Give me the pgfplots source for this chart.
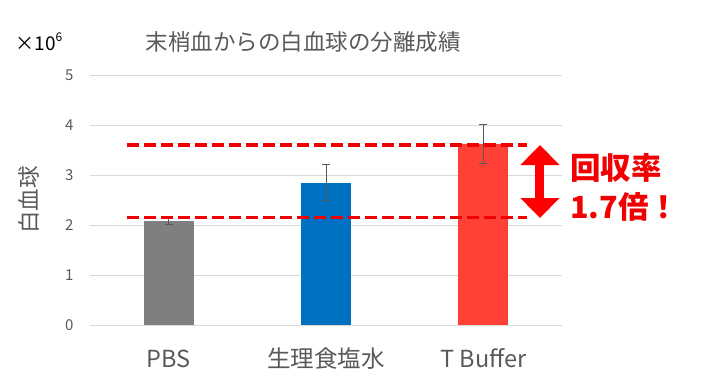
\documentclass[border=0pt]{standalone}
\usepackage{fontspec}
\setmainfont{Noto Sans CJK JP}
\usepackage{pgfplots}
\pgfplotsset{compat=1.18}
\usetikzlibrary{arrows.meta}
\definecolor{txtgray}{HTML}{595959}
\definecolor{gridgray}{HTML}{D9D9D9}
\definecolor{bargray}{HTML}{7F7F7F}
\definecolor{barblue}{HTML}{0070C0}
\definecolor{barred}{HTML}{FF4034}
\definecolor{anno}{HTML}{F00000}
\begin{document}
\begin{tikzpicture}
\path[use as bounding box] (0,0) rectangle (725bp,389bp);
\begin{axis}[
  at={(90bp,64bp)}, anchor=south west,
  scale only axis, width=472bp, height=250bp,
  xmin=-0.5, xmax=2.5, ymin=0, ymax=5,
  ytick={0,1,2,3,4,5},
  xtick={0,1,2},
  xticklabels={PBS,生理食塩水,T Buffer},
  axis line style={draw=none},
  tick style={draw=none},
  ymajorgrids,
  grid style={color=gridgray, line width=0.9bp},
  /pgf/number format/assume math mode=true,
  yticklabel style={font=\fontsize{15bp}{15bp}\selectfont, color=txtgray, anchor=east, xshift=-13bp},
  xticklabel style={font=\fontsize{23.5bp}{23.5bp}\selectfont, color=txtgray, anchor=base, yshift=-38bp},
  ybar, bar width=50bp, bar shift=0pt,
  clip=false,
  error bars/error bar style={color=txtgray, line width=0.8bp},
  error bars/error mark options={rotate=90, color=txtgray, mark size=4bp, line width=0.8bp},
]
\addplot+[fill=bargray, draw=none,
  error bars/.cd, y dir=both, y explicit]
  coordinates {(0,2.08) +- (0,0.07)};
\addplot+[fill=barblue, draw=none,
  error bars/.cd, y dir=both, y explicit]
  coordinates {(1,2.85) +- (0,0.36)};
\addplot+[fill=barred, draw=none,
  error bars/.cd, y dir=both, y explicit]
  coordinates {(2,3.62) +- (0,0.39)};
\addplot[sharp plot, no marks, color=anno, line width=3.5bp, dash pattern=on 12bp off 5bp]
  coordinates {(-0.265,3.6) (2.28,3.6)};
\addplot[sharp plot, no marks, color=anno, line width=3.5bp, dash pattern=on 12bp off 5bp]
  coordinates {(-0.265,2.15) (2.28,2.15)};
\draw[line width=9bp, color=red, {Triangle[width=38bp,length=20bp]}-{Triangle[width=38bp,length=20bp]}]
  (axis cs:2.36,3.6) -- (axis cs:2.36,2.14);
\node[anchor=west, inner sep=0pt, color=anno, font=\bfseries\fontsize{30.5bp}{30.5bp}\selectfont] at (axis cs:2.551,3.14) {回収率};
\node[anchor=west, inner sep=0pt, color=anno, font=\bfseries\fontsize{30.5bp}{30.5bp}\selectfont] at (axis cs:2.551,2.36) {1.7倍！};
\node[rotate=90, color=txtgray, font=\fontsize{22.5bp}{22.5bp}\selectfont] at (rel axis cs:-0.129,0.5) {白血球};
\node[color=txtgray, font=\fontsize{22.5bp}{22.5bp}\selectfont] at (rel axis cs:0.452,1.132) {末梢血からの白血球の分離成績};
\node[color=black, font=\fontsize{19bp}{19bp}\selectfont] at (rel axis cs:-0.108,1.132) {×10\raisebox{0.45em}{\fontsize{12bp}{12bp}\selectfont 6}};
\end{axis}
\end{tikzpicture}
\end{document}
